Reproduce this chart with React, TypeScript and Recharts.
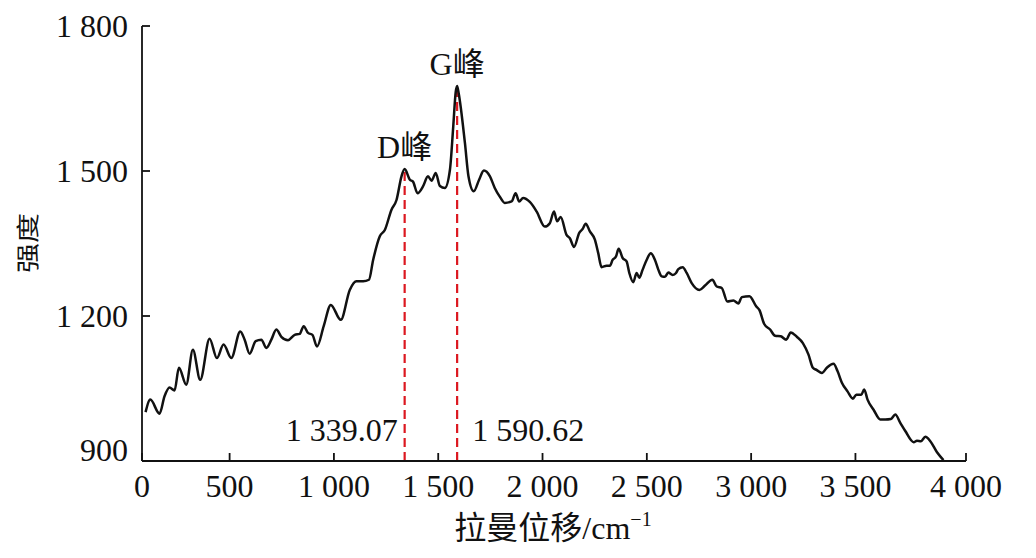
import React from 'react';
import { LineChart, Line, XAxis, YAxis, ReferenceLine } from 'recharts';

// Raman spectrum (shift in cm^-1, intensity in a.u.)
const ramanShift = [
  97, 120, 164, 188, 212, 236, 257, 292, 324, 359,
  404, 439, 471, 508, 551, 572, 596, 625, 652, 676,
  700, 724, 748, 780, 812, 836, 855, 876, 897, 919,
  951, 985, 1033, 1076, 1108, 1140, 1168, 1188, 1220, 1244,
  1276, 1300, 1324, 1339.07, 1364, 1379, 1401, 1427, 1451, 1468,
  1488, 1508, 1532, 1556, 1572, 1584, 1590.62, 1598, 1628, 1645,
  1670, 1696, 1719, 1748, 1771, 1795, 1819, 1852, 1871, 1888,
  1907, 1939, 1972, 2011, 2035, 2055, 2070, 2087, 2115, 2131,
  2151, 2176, 2192, 2207, 2227, 2251, 2267, 2283, 2307, 2323,
  2336, 2352, 2365, 2384, 2403, 2416, 2435, 2451, 2464, 2480,
  2499, 2519, 2539, 2555, 2571, 2587, 2603, 2624, 2640, 2651,
  2672, 2691, 2715, 2752, 2779, 2814, 2835, 2859, 2886, 2915,
  2939, 2955, 2992, 3024, 3040, 3062, 3091, 3115, 3142, 3168,
  3190, 3219, 3248, 3275, 3296, 3315, 3339, 3363, 3395, 3414,
  3435, 3462, 3488, 3504, 3528, 3542, 3558, 3587, 3619, 3643,
  3670, 3691, 3715, 3739, 3779, 3795, 3814, 3835, 3859, 3891,
  3922,
];

const intensity = [
  1001, 1027, 998, 1034, 1052, 1046, 1093, 1058, 1130, 1068,
  1153, 1113, 1141, 1113, 1168, 1151, 1122, 1148, 1151, 1134,
  1151, 1172, 1157, 1150, 1161, 1163, 1179, 1165, 1161, 1137,
  1179, 1223, 1192, 1254, 1272, 1272, 1275, 1316, 1365, 1378,
  1420, 1440, 1489, 1504, 1482, 1478, 1454, 1468, 1489, 1480,
  1496, 1469, 1465, 1502, 1592, 1664, 1676, 1661, 1558, 1489,
  1458, 1482, 1501, 1489, 1465, 1447, 1434, 1437, 1454, 1437,
  1444, 1436, 1416, 1385, 1392, 1416, 1396, 1405, 1368, 1361,
  1343, 1372, 1380, 1391, 1375, 1358, 1330, 1301, 1304, 1304,
  1316, 1323, 1339, 1320, 1313, 1289, 1270, 1289, 1279, 1296,
  1316, 1330, 1316, 1296, 1282, 1281, 1290, 1285, 1289, 1297,
  1301, 1289, 1268, 1254, 1263, 1275, 1261, 1258, 1230, 1232,
  1226, 1239, 1241, 1220, 1212, 1184, 1172, 1159, 1158, 1151,
  1166, 1157, 1144, 1120, 1093, 1088, 1082, 1093, 1101, 1086,
  1062, 1044, 1029, 1037, 1037, 1048, 1027, 1006, 986, 986,
  987, 996, 979, 962, 939, 942, 941, 950, 941, 918,
  902,
];

const xDomain = [80, 4030];
const xTicks = [80, 500, 1000, 1500, 2000, 2500, 3000, 3500, 4030];
const xTickLabels = ['0', '500', '1 000', '1 500', '2 000', '2 500', '3 000', '3 500', '4 000'];

const yDomain = [900, 1800];
const yTicks = [900, 1200, 1500, 1800];
const yTickLabels = ['900', '1 200', '1 500', '1 800'];

const peakNames = ['D峰', 'G峰'];
const peakShifts = [1339.07, 1590.62];
const peakTexts = ['1 339.07', '1 590.62'];

const FONT = '"Liberation Serif", "Times New Roman", "Noto Sans CJK SC", serif';
const INK = '#111';
const RED = '#dc1820';

const rows = ramanShift.map((s, i) => ({ shift: s, intensity: intensity[i] }));

function XTick(props: any) {
  const { x, y, payload } = props;
  const i = xTicks.indexOf(payload.value);
  return (
    <g>
      <line x1={x} x2={x} y1={y} y2={y - 8} stroke={INK} strokeWidth={1.8} />
      <text x={x} y={y + 36} textAnchor="middle" fontFamily={FONT} fontSize={32} fill={INK}>
        {xTickLabels[i]}
      </text>
    </g>
  );
}

function YTick(props: any) {
  const { x, y, payload } = props;
  const i = yTicks.indexOf(payload.value);
  const dy = payload.value === 900 ? 0 : 11;
  return (
    <g>
      <line x1={x} x2={x + 8} y1={y} y2={y} stroke={INK} strokeWidth={1.8} />
      <text x={x - 14} y={y + dy} textAnchor="end" fontFamily={FONT} fontSize={32} fill={INK}>
        {yTickLabels[i]}
      </text>
    </g>
  );
}

function YTitle(props: any) {
  const { viewBox } = props;
  const cx = viewBox.x + 28;
  const cy = viewBox.y + 217;
  return (
    <text
      transform={`translate(${cx} ${cy}) rotate(-90) scale(1 0.75)`}
      textAnchor="middle"
      dominantBaseline="central"
      fontFamily={FONT}
      fontSize={30}
      fill={INK}
    >
      强度
    </text>
  );
}

function XTitle(props: any) {
  const { viewBox } = props;
  return (
    <text x={viewBox.x + 411} y={viewBox.y + 78} textAnchor="middle" fontFamily={FONT} fontSize={32} fill={INK}>
      <tspan>拉曼位移/cm</tspan>
      <tspan dy={-13} fontSize={20}>−1</tspan>
    </text>
  );
}

function peakLabel(idx: number) {
  return (props: any) => {
    const { viewBox } = props;
    const left = idx === 0;
    return (
      <g>
        <text x={viewBox.x} y={viewBox.y - 11} textAnchor="middle" fontFamily={FONT} fontSize={32} fill={INK}>
          {peakNames[idx]}
        </text>
        <text
          x={left ? viewBox.x - 7 : viewBox.x + 15}
          y={viewBox.y + viewBox.height - 20}
          textAnchor={left ? 'end' : 'start'}
          fontFamily={FONT}
          fontSize={32}
          fill={INK}
        >
          {peakTexts[idx]}
        </text>
      </g>
    );
  };
}

export default function App() {
  return (
    <div style={{ position: 'absolute', left: 0, top: 0, background: '#fff' }}>
      <LineChart width={1036} height={558} data={rows} margin={{ top: 26, right: 70, bottom: 0, left: 0 }}>
        <XAxis
          type="number"
          dataKey="shift"
          domain={xDomain}
          ticks={xTicks}
          interval={0}
          allowDataOverflow
          tickSize={0}
          tickMargin={0}
          tickLine={false}
          tick={<XTick />}
          height={97}
          axisLine={{ stroke: INK, strokeWidth: 1.8 }}
          label={{ content: XTitle }}
        />
        <YAxis
          type="number"
          domain={yDomain}
          ticks={yTicks}
          interval={0}
          allowDataOverflow
          tickSize={0}
          tickMargin={0}
          tickLine={false}
          tick={<YTick />}
          width={142}
          axisLine={{ stroke: INK, strokeWidth: 1.8 }}
          label={{ content: YTitle }}
        />
        {peakShifts.map((s, idx) => (
          <ReferenceLine
            key={s}
            segment={[
              { x: s, y: yDomain[0] },
              { x: s, y: intensity[ramanShift.indexOf(s)] },
            ]}
            stroke={RED}
            strokeWidth={2.2}
            strokeDasharray="9 5"
            label={{ content: peakLabel(idx) }}
          />
        ))}
        <Line
          type="monotone"
          dataKey="intensity"
          stroke={INK}
          strokeWidth={2.5}
          dot={false}
          activeDot={false}
          isAnimationActive={false}
        />
      </LineChart>
    </div>
  );
}
